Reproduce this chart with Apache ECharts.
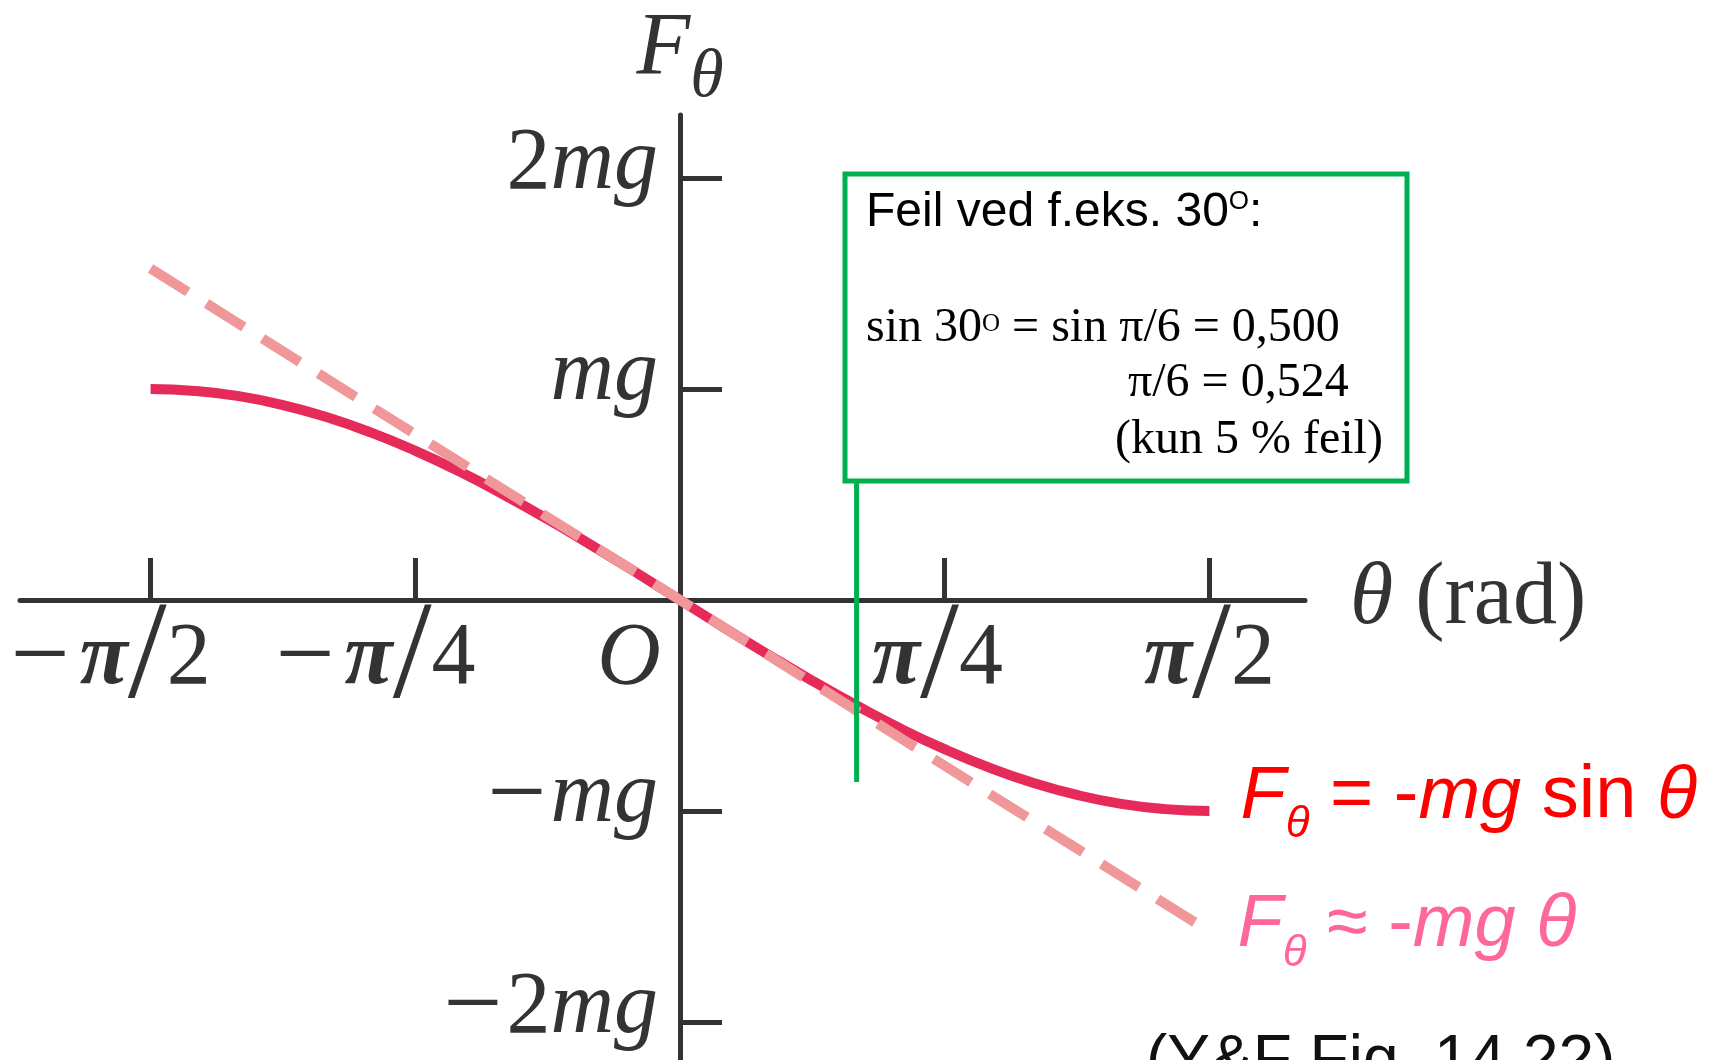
<!DOCTYPE html>
<html>
<head>
<meta charset="utf-8">
<title>Pendelkraft</title>
<script src="https://cdn.jsdelivr.net/npm/echarts@6/dist/echarts.min.js"></script>
<style>
  html, body { margin: 0; padding: 0; background: #ffffff; }
  #chart { width: 1724px; height: 1060px; }
</style>
</head>
<body>
<div id="chart"></div>
<script>
// Angle θ in radians
const theta = [-1.571, -1.440, -1.309, -1.178, -1.047, -0.916, -0.785, -0.654, -0.524, -0.393, -0.262, -0.131, 0,
               0.131, 0.262, 0.393, 0.524, 0.654, 0.785, 0.916, 1.047, 1.178, 1.309, 1.440, 1.571];
// Restoring force F_θ = -mg sin θ, in units of mg
const forceExact = [1.000, 0.991, 0.966, 0.924, 0.866, 0.793, 0.707, 0.609, 0.500, 0.383, 0.259, 0.131, 0,
                    -0.131, -0.259, -0.383, -0.500, -0.609, -0.707, -0.793, -0.866, -0.924, -0.966, -0.991, -1.000];
// Small-angle approximation F_θ ≈ -mg θ
const thetaApprox = [-1.571, 0, 1.571];
const forceApprox = [1.571, 0, -1.571];
// 30° marker (π/6) and the vertical span of its line
const markerTheta = 0.524;
const markerSpan = [0.555, -0.863];

// Axis ticks and their labels
const xTickValues = [-1.571, -0.785, 0.785, 1.571];
const xLabelValues = [-1.571, -0.785, 0, 0.785, 1.571];
const xLabelTexts = ['{m|−}{p|π}{s|/}{n|2}{g|}', '{m|−}{p|π}{s|/}{n|4}{g|}', '{o|O}{go|}', '{p|π}{s|/}{n|4}{gs|}', '{p|π}{s|/}{n|2}'];
const yTickValues = [-2, -1, 1, 2];
const yLabelTexts = { '-2': '{ym|−}{n|2}{i|mg}', '-1': '{ym|−}{i|mg}', '1': '{i|mg}', '2': '{n|2}{i|mg}' };

const X_MIN = -1.9585, X_MAX = 1.8546;
const Y_MIN = -2.18, Y_MAX = 2.2986;

const SERIF = 'Liberation Serif';
const SANS = 'Liberation Sans';
const AXIS = '#333333';
const MATH = 88;

const xy = (xs, ys) => xs.map((x, i) => [x, ys[i]]);

const chart = echarts.init(document.getElementById('chart'), null, { renderer: 'canvas' });

const labelRich = {
  n: { fontFamily: SERIF, fontSize: MATH, color: AXIS, lineHeight: 100 },
  m: { fontFamily: SERIF, fontSize: 105, color: AXIS, lineHeight: 100, padding: [0, 10, 0, 0] },
  ym: { fontFamily: SERIF, fontSize: 105, color: AXIS, lineHeight: 100, padding: [0, 4, 0, 0] },
  i: { fontFamily: SERIF, fontSize: MATH, fontStyle: 'italic', color: AXIS, lineHeight: 100 },
  p: { fontFamily: SERIF, fontSize: MATH, fontStyle: 'italic', fontWeight: 'bold', color: AXIS, lineHeight: 100 },
  s: { fontFamily: SERIF, fontSize: 140, color: AXIS, lineHeight: 100 },
  o: { fontFamily: SERIF, fontSize: MATH, fontStyle: 'italic', color: AXIS, lineHeight: 100 },
  g: { width: 80 },
  gs: { width: 14 },
  go: { width: 102 }
};

const endRich = (color) => ({
  F: { fontFamily: SANS, fontSize: 74, fontStyle: 'italic', color: color },
  sub: { fontFamily: SANS, fontSize: 44, fontStyle: 'italic', color: color, padding: [56, 0, 0, 0] },
  t: { fontFamily: SANS, fontSize: 74, color: color },
  i: { fontFamily: SANS, fontSize: 74, fontStyle: 'italic', color: color }
});

const option = {
  animation: false,
  backgroundColor: '#ffffff',
  grid: { left: 20, right: 419, top: 115, bottom: 0, containLabel: false, outerBoundsMode: 'none' },
  xAxis: {
    type: 'value',
    min: X_MIN,
    max: X_MAX,
    position: 'bottom',
    offset: 0,
    splitLine: { show: false },
    axisLine: { onZero: false, lineStyle: { color: AXIS, width: 5 } },
    axisTick: { show: true, inside: true, length: 42, customValues: xTickValues, lineStyle: { color: AXIS, width: 5 } },
    axisLabel: {
      show: true,
      customValues: xLabelValues,
      margin: 10,
      formatter: (v) => {
        const k = xLabelValues.findIndex(u => Math.abs(u - v) < 1e-6);
        return k >= 0 ? xLabelTexts[k] : '';
      },
      rich: labelRich
    },
    name: '{t|θ}{r| (rad)}',
    nameLocation: 'end',
    nameGap: 45,
    nameTextStyle: {
      rich: {
        t: { fontFamily: SERIF, fontSize: MATH, fontStyle: 'italic', color: AXIS },
        r: { fontFamily: SERIF, fontSize: MATH, color: AXIS }
      }
    }
  },
  yAxis: {
    type: 'value',
    min: Y_MIN,
    max: Y_MAX,
    position: 'left',
    offset: 0,
    splitLine: { show: false },
    axisLine: { onZero: false, lineStyle: { color: AXIS, width: 5 } },
    axisTick: { show: true, inside: true, length: 42, customValues: yTickValues, lineStyle: { color: AXIS, width: 5 } },
    axisLabel: {
      show: true,
      customValues: yTickValues,
      margin: 22,
      padding: [0, 0, 26, 0],
      formatter: (v) => yLabelTexts[String(Math.round(v))] || '',
      rich: labelRich
    },
    name: '{F|F}{sub|θ}',
    nameLocation: 'end',
    nameGap: 3,
    nameTextStyle: {
      rich: {
        F: { fontFamily: SERIF, fontSize: MATH, fontStyle: 'italic', color: AXIS },
        sub: { fontFamily: SERIF, fontSize: 68, fontStyle: 'italic', color: AXIS, padding: [57, 0, 0, 0] }
      }
    }
  },
  series: [
    {
      name: 'F = -mg sin θ',
      type: 'line',
      data: xy(theta, forceExact),
      smooth: true,
      symbol: 'none',
      z: 3,
      lineStyle: { color: '#e62a5a', width: 10, cap: 'butt' },
      endLabel: {
        show: true,
        distance: 0,
        offset: [31, -14],
        formatter: '{F|F}{sub|θ}{t| = -}{i|mg}{t| sin }{i|θ}',
        rich: endRich('#ff0000')
      }
    },
    {
      name: 'F ≈ -mg θ',
      type: 'line',
      data: xy(thetaApprox, forceApprox),
      symbol: 'none',
      z: 4,
      lineStyle: { color: '#f09899', width: 10, type: [44, 22], cap: 'butt' },
      endLabel: {
        show: true,
        distance: 0,
        offset: [28, -6],
        formatter: '{F|F}{sub|θ}{t| ≈ -}{i|mg θ}',
        rich: endRich('#ff6699')
      }
    },
    {
      name: '30°',
      type: 'line',
      data: [[markerTheta, markerSpan[0]], [markerTheta, markerSpan[1]]],
      symbol: 'none',
      z: 5,
      silent: true,
      lineStyle: { color: '#00b050', width: 5, cap: 'butt' }
    }
  ],
  graphic: [
    {
      type: 'rect',
      shape: { x: 845, y: 174, width: 562, height: 307 },
      style: { fill: 'none', stroke: '#00b050', lineWidth: 5 },
      z: 10
    },
    {
      type: 'text',
      z: 11,
      style: {
        x: 866, y: 229 - 0.3465 * 48,
        verticalAlign: 'middle',
        text: '{t|Feil ved f.eks. 30}{sup|O}{t|:}',
        rich: {
          t: { fontFamily: SANS, fontSize: 48, fill: '#000000' },
          sup: { fontFamily: SANS, fontSize: 26, fill: '#000000', padding: [0, 0, 21, 0] }
        }
      }
    },
    {
      type: 'text',
      z: 11,
      style: {
        x: 866, y: 345 - 0.3375 * 48,
        verticalAlign: 'middle',
        text: '{t|sin 30}{sup|O}{t| = sin π/6 = 0,500}',
        rich: {
          t: { fontFamily: SERIF, fontSize: 48, fill: '#000000' },
          sup: { fontFamily: SERIF, fontSize: 25, fill: '#000000', padding: [0, 0, 9, 0] }
        }
      }
    },
    {
      type: 'text',
      z: 11,
      style: {
        x: 1128, y: 400 - 0.3375 * 48,
        verticalAlign: 'middle',
        text: 'π/6 = 0,524',
        font: '48px "Liberation Serif"',
        fill: '#000000'
      }
    },
    {
      type: 'text',
      z: 11,
      style: {
        x: 1115, y: 457 - 0.3375 * 48,
        verticalAlign: 'middle',
        text: '(kun 5 % feil)',
        font: '48px "Liberation Serif"',
        fill: '#000000'
      }
    },
    {
      type: 'text',
      z: 11,
      style: {
        x: 1146, y: 1085 - 0.3465 * 64,
        verticalAlign: 'middle',
        text: '(Y&F Fig. 14.22)',
        font: '64px "Liberation Sans"',
        fill: '#111111'
      }
    }
  ]
};

chart.setOption(option);

// Let the two axes cross at the origin: shift each axis from the grid edge onto the zero line of the other.
const origin = chart.convertToPixel({ gridIndex: 0 }, [0, 0]);
const corner = chart.convertToPixel({ gridIndex: 0 }, [X_MIN, Y_MIN]);
chart.setOption({
  xAxis: { offset: -(corner[1] - origin[1]) },
  yAxis: { offset: -(origin[0] - corner[0]) }
});
</script>
</body>
</html>
